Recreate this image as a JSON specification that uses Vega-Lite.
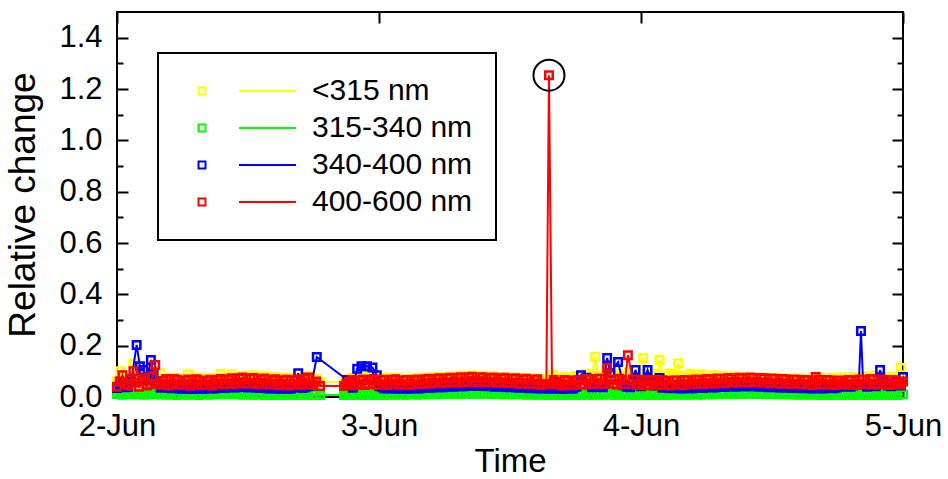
{
"$schema":"https://vega.github.io/schema/vega-lite/v6.json",
"autosize":"none",
"width":786,"height":385,
"padding":{"left":117,"top":12,"right":45,"bottom":82},
"background":"white",
"config":{
 "view":{"stroke":"black","strokeWidth":2},
 "font":"Liberation Sans",
 "axis":{"labelFont":"Liberation Sans","titleFont":"Liberation Sans","labelColor":"black","titleColor":"black","tickColor":"black","tickWidth":2,"domain":false,"grid":false,"labelFontSize":31,"titleFontWeight":"normal","labelOverlap":false,"labelFlush":false},
 "legend":{"strokeWidth":2}
},
"datasets":{
"yel":[{"h":0,"v":0.06},{"h":0.3,"v":0.1},{"h":1,"v":0.058},{"h":1.5,"v":0.13},{"h":2,"v":0.062},{"h":2.5,"v":0.08},{"h":3,"v":0.058},{"h":4,"v":0.093},{"h":4.5,"v":0.062},{"h":5,"v":0.075},{"h":5.5,"v":0.058},{"h":6,"v":0.072},{"h":6.5,"v":0.088},{"h":7,"v":0.06},{"h":7.5,"v":0.075},{"h":8,"v":0.058},{"h":8.5,"v":0.074},{"h":9,"v":0.062},{"h":9.5,"v":0.09},{"h":10,"v":0.06},{"h":10.5,"v":0.088},{"h":11,"v":0.062},{"h":11.5,"v":0.08},{"h":12,"v":0.064},{"h":12.5,"v":0.085},{"h":13,"v":0.062},{"h":13.5,"v":0.082},{"h":14,"v":0.06},{"h":14.5,"v":0.078},{"h":15,"v":0.058},{"h":15.5,"v":0.075},{"h":16,"v":0.06},{"h":16.5,"v":0.077},{"h":17,"v":0.062},{"h":17.5,"v":0.08},{"h":18,"v":0.062},{"h":18.6,"v":0.058},{"h":20.8,"v":0.058},{"h":21,"v":0.062},{"h":21.5,"v":0.075},{"h":22,"v":0.06},{"h":22.5,"v":0.08},{"h":23,"v":0.062},{"h":23.5,"v":0.085},{"h":24,"v":0.06},{"h":24.5,"v":0.076},{"h":25,"v":0.058},{"h":25.5,"v":0.074},{"h":26,"v":0.057},{"h":26.5,"v":0.072},{"h":27,"v":0.059},{"h":27.5,"v":0.074},{"h":28,"v":0.06},{"h":28.5,"v":0.076},{"h":29,"v":0.062},{"h":29.5,"v":0.078},{"h":30,"v":0.064},{"h":30.5,"v":0.08},{"h":31,"v":0.066},{"h":31.5,"v":0.082},{"h":32,"v":0.067},{"h":32.5,"v":0.084},{"h":33,"v":0.066},{"h":33.5,"v":0.082},{"h":34,"v":0.064},{"h":34.5,"v":0.08},{"h":35,"v":0.062},{"h":35.5,"v":0.078},{"h":36,"v":0.06},{"h":36.5,"v":0.076},{"h":37,"v":0.058},{"h":37.5,"v":0.074},{"h":38,"v":0.057},{"h":38.5,"v":0.072},{"h":39,"v":0.058},{"h":39.5,"v":0.07},{"h":39.9,"v":0.086},{"h":40.5,"v":0.062},{"h":41,"v":0.078},{"h":41.5,"v":0.064},{"h":42,"v":0.082},{"h":42.5,"v":0.066},{"h":43,"v":0.09},{"h":43.5,"v":0.068},{"h":43.8,"v":0.157},{"h":44.3,"v":0.07},{"h":44.8,"v":0.1},{"h":45.3,"v":0.075},{"h":45.8,"v":0.09},{"h":46.3,"v":0.072},{"h":46.8,"v":0.095},{"h":47.3,"v":0.07},{"h":47.8,"v":0.09},{"h":48.2,"v":0.152},{"h":48.7,"v":0.075},{"h":49.2,"v":0.09},{"h":49.7,"v":0.144},{"h":50.2,"v":0.078},{"h":50.7,"v":0.092},{"h":51.1,"v":0.08},{"h":51.4,"v":0.132},{"h":52,"v":0.075},{"h":52.5,"v":0.09},{"h":53,"v":0.072},{"h":53.5,"v":0.088},{"h":54,"v":0.07},{"h":54.5,"v":0.085},{"h":55,"v":0.068},{"h":55.5,"v":0.082},{"h":56,"v":0.066},{"h":56.5,"v":0.08},{"h":57,"v":0.065},{"h":57.5,"v":0.078},{"h":58,"v":0.064},{"h":58.5,"v":0.076},{"h":59,"v":0.063},{"h":59.5,"v":0.075},{"h":60,"v":0.062},{"h":60.5,"v":0.074},{"h":61,"v":0.06},{"h":61.5,"v":0.072},{"h":62,"v":0.06},{"h":62.5,"v":0.072},{"h":63,"v":0.058},{"h":63.5,"v":0.07},{"h":64,"v":0.06},{"h":64.5,"v":0.072},{"h":65,"v":0.062},{"h":65.5,"v":0.074},{"h":66,"v":0.063},{"h":66.5,"v":0.076},{"h":67,"v":0.064},{"h":67.5,"v":0.078},{"h":68,"v":0.065},{"h":68.5,"v":0.08},{"h":69,"v":0.066},{"h":69.5,"v":0.082},{"h":70,"v":0.065},{"h":70.5,"v":0.08},{"h":71,"v":0.066},{"h":71.8,"v":0.113},{"h":72,"v":0.08},
{"h":0.6,"v":0.07},{"h":1.25,"v":0.065},{"h":1.75,"v":0.07},{"h":2.25,"v":0.075},{"h":2.75,"v":0.06},{"h":3.5,"v":0.075},{"h":4.25,"v":0.07},{"h":4.75,"v":0.058},{"h":5.25,"v":0.068},{"h":5.75,"v":0.072},{"h":6.25,"v":0.06},{"h":6.75,"v":0.07},{"h":7.25,"v":0.065},{"h":7.75,"v":0.06},{"h":8.25,"v":0.07},{"h":8.75,"v":0.063},{"h":9.25,"v":0.072},{"h":9.75,"v":0.065},{"h":10.25,"v":0.074},{"h":10.75,"v":0.066},{"h":11.25,"v":0.076},{"h":11.75,"v":0.068},{"h":12.25,"v":0.078},{"h":12.75,"v":0.068},{"h":13.25,"v":0.075},{"h":13.75,"v":0.066},{"h":14.25,"v":0.072},{"h":14.75,"v":0.064},{"h":15.25,"v":0.07},{"h":15.75,"v":0.062},{"h":16.25,"v":0.071},{"h":16.75,"v":0.063},{"h":17.25,"v":0.073},{"h":17.75,"v":0.066},{"h":18.3,"v":0.07},{"h":21.25,"v":0.07},{"h":21.75,"v":0.064},{"h":22.25,"v":0.072},{"h":22.75,"v":0.066},{"h":23.25,"v":0.078},{"h":23.75,"v":0.066},{"h":24.25,"v":0.07},{"h":24.75,"v":0.063},{"h":25.25,"v":0.068},{"h":25.75,"v":0.062},{"h":26.25,"v":0.066},{"h":26.75,"v":0.062},{"h":27.25,"v":0.068},{"h":27.75,"v":0.063},{"h":28.25,"v":0.07},{"h":28.75,"v":0.065},{"h":29.25,"v":0.072},{"h":29.75,"v":0.067},{"h":30.25,"v":0.074},{"h":30.75,"v":0.069},{"h":31.25,"v":0.076},{"h":31.75,"v":0.07},{"h":32.25,"v":0.077},{"h":32.75,"v":0.071},{"h":33.25,"v":0.076},{"h":33.75,"v":0.07},{"h":34.25,"v":0.074},{"h":34.75,"v":0.068},{"h":35.25,"v":0.072},{"h":35.75,"v":0.066},{"h":36.25,"v":0.07},{"h":36.75,"v":0.064},{"h":37.25,"v":0.068},{"h":37.75,"v":0.062},{"h":38.25,"v":0.066},{"h":38.75,"v":0.062},{"h":39.25,"v":0.064},{"h":39.7,"v":0.066},{"h":40.2,"v":0.072},{"h":40.75,"v":0.07},{"h":41.25,"v":0.07},{"h":41.75,"v":0.072},{"h":42.25,"v":0.074},{"h":42.75,"v":0.078},{"h":43.25,"v":0.08},{"h":44.05,"v":0.085},{"h":44.55,"v":0.082},{"h":45.05,"v":0.088},{"h":45.55,"v":0.08},{"h":46.05,"v":0.085},{"h":46.55,"v":0.08},{"h":47.05,"v":0.084},{"h":47.55,"v":0.08},{"h":48.45,"v":0.085},{"h":48.95,"v":0.082},{"h":49.45,"v":0.088},{"h":49.95,"v":0.084},{"h":50.45,"v":0.086},{"h":51.7,"v":0.082},{"h":52.25,"v":0.082},{"h":52.75,"v":0.08},{"h":53.25,"v":0.08},{"h":53.75,"v":0.078},{"h":54.25,"v":0.078},{"h":54.75,"v":0.076},{"h":55.25,"v":0.075},{"h":55.75,"v":0.074},{"h":56.25,"v":0.073},{"h":56.75,"v":0.072},{"h":57.25,"v":0.071},{"h":57.75,"v":0.07},{"h":58.25,"v":0.07},{"h":58.75,"v":0.069},{"h":59.25,"v":0.068},{"h":59.75,"v":0.068},{"h":60.25,"v":0.067},{"h":60.75,"v":0.066},{"h":61.25,"v":0.066},{"h":61.75,"v":0.065},{"h":62.25,"v":0.066},{"h":62.75,"v":0.064},{"h":63.25,"v":0.064},{"h":63.75,"v":0.065},{"h":64.25,"v":0.066},{"h":64.75,"v":0.067},{"h":65.25,"v":0.068},{"h":65.75,"v":0.069},{"h":66.25,"v":0.07},{"h":66.75,"v":0.07},{"h":67.25,"v":0.071},{"h":67.75,"v":0.072},{"h":68.25,"v":0.073},{"h":68.75,"v":0.073},{"h":69.25,"v":0.074},{"h":69.75,"v":0.074},{"h":70.25,"v":0.073},{"h":70.75,"v":0.072},{"h":71.25,"v":0.074},{"h":71.5,"v":0.08}],
"grn":[{"h":0,"v":0.012},{"h":0.5,"v":0.009},{"h":1,"v":0.014},{"h":1.5,"v":0.01},{"h":2,"v":0.013},{"h":2.5,"v":0.009},{"h":3,"v":0.012},{"h":3.5,"v":0.01},{"h":4,"v":0.013},{"h":4.5,"v":0.009},{"h":5,"v":0.011},{"h":5.5,"v":0.008},{"h":6,"v":0.012},{"h":6.5,"v":0.009},{"h":7,"v":0.011},{"h":7.5,"v":0.008},{"h":8,"v":0.012},{"h":8.5,"v":0.009},{"h":9,"v":0.013},{"h":9.5,"v":0.01},{"h":10,"v":0.014},{"h":10.5,"v":0.01},{"h":11,"v":0.013},{"h":11.5,"v":0.009},{"h":12,"v":0.012},{"h":12.5,"v":0.009},{"h":13,"v":0.011},{"h":13.5,"v":0.008},{"h":14,"v":0.011},{"h":14.5,"v":0.008},{"h":15,"v":0.01},{"h":15.5,"v":0.008},{"h":16,"v":0.011},{"h":16.5,"v":0.008},{"h":17,"v":0.01},{"h":17.5,"v":0.008},{"h":18,"v":0.01},{"h":18.6,"v":0.008},{"h":20.8,"v":0.008},{"h":21,"v":0.01},{"h":21.5,"v":0.008},{"h":22,"v":0.011},{"h":22.5,"v":0.008},{"h":23,"v":0.01},{"h":23.5,"v":0.008},{"h":24,"v":0.01},{"h":24.5,"v":0.008},{"h":25,"v":0.011},{"h":25.5,"v":0.009},{"h":26,"v":0.011},{"h":26.5,"v":0.009},{"h":27,"v":0.012},{"h":27.5,"v":0.009},{"h":28,"v":0.012},{"h":28.5,"v":0.01},{"h":29,"v":0.013},{"h":29.5,"v":0.01},{"h":30,"v":0.014},{"h":30.5,"v":0.011},{"h":31,"v":0.015},{"h":31.5,"v":0.011},{"h":32,"v":0.016},{"h":32.5,"v":0.012},{"h":33,"v":0.016},{"h":33.5,"v":0.012},{"h":34,"v":0.015},{"h":34.5,"v":0.011},{"h":35,"v":0.014},{"h":35.5,"v":0.01},{"h":36,"v":0.013},{"h":36.5,"v":0.01},{"h":37,"v":0.012},{"h":37.5,"v":0.009},{"h":38,"v":0.011},{"h":38.5,"v":0.009},{"h":39,"v":0.011},{"h":39.5,"v":0.008},{"h":40,"v":0.01},{"h":40.5,"v":0.008},{"h":41,"v":0.01},{"h":41.5,"v":0.008},{"h":42,"v":0.01},{"h":42.5,"v":0.008},{"h":43,"v":0.011},{"h":43.5,"v":0.009},{"h":44,"v":0.011},{"h":44.5,"v":0.009},{"h":45,"v":0.012},{"h":45.5,"v":0.009},{"h":46,"v":0.011},{"h":46.5,"v":0.009},{"h":47,"v":0.011},{"h":47.5,"v":0.008},{"h":48,"v":0.01},{"h":48.5,"v":0.008},{"h":49,"v":0.01},{"h":49.5,"v":0.008},{"h":50,"v":0.01},{"h":50.5,"v":0.008},{"h":51,"v":0.011},{"h":51.5,"v":0.009},{"h":52,"v":0.011},{"h":52.5,"v":0.009},{"h":53,"v":0.012},{"h":53.5,"v":0.009},{"h":54,"v":0.013},{"h":54.5,"v":0.01},{"h":55,"v":0.014},{"h":55.5,"v":0.011},{"h":56,"v":0.015},{"h":56.5,"v":0.011},{"h":57,"v":0.016},{"h":57.5,"v":0.012},{"h":58,"v":0.016},{"h":58.5,"v":0.012},{"h":59,"v":0.015},{"h":59.5,"v":0.011},{"h":60,"v":0.014},{"h":60.5,"v":0.01},{"h":61,"v":0.013},{"h":61.5,"v":0.01},{"h":62,"v":0.012},{"h":62.5,"v":0.009},{"h":63,"v":0.011},{"h":63.5,"v":0.009},{"h":64,"v":0.011},{"h":64.5,"v":0.008},{"h":65,"v":0.01},{"h":65.5,"v":0.008},{"h":66,"v":0.01},{"h":66.5,"v":0.008},{"h":67,"v":0.01},{"h":67.5,"v":0.008},{"h":68,"v":0.01},{"h":68.5,"v":0.008},{"h":69,"v":0.01},{"h":69.5,"v":0.008},{"h":70,"v":0.01},{"h":70.5,"v":0.008},{"h":71,"v":0.01},{"h":71.5,"v":0.008},{"h":72,"v":0.01},
{"h":0.25,"v":0.011},{"h":1.25,"v":0.012},{"h":2.25,"v":0.011},{"h":3.25,"v":0.011},{"h":4.25,"v":0.011},{"h":5.25,"v":0.01},{"h":6.25,"v":0.01},{"h":7.25,"v":0.01},{"h":8.25,"v":0.011},{"h":9.25,"v":0.012},{"h":10.25,"v":0.012},{"h":11.25,"v":0.011},{"h":12.25,"v":0.01},{"h":13.25,"v":0.01},{"h":14.25,"v":0.009},{"h":15.25,"v":0.009},{"h":16.25,"v":0.009},{"h":17.25,"v":0.009},{"h":18.25,"v":0.009},{"h":21.25,"v":0.009},{"h":22.25,"v":0.009},{"h":23.25,"v":0.009},{"h":24.25,"v":0.009},{"h":25.25,"v":0.01},{"h":26.25,"v":0.01},{"h":27.25,"v":0.011},{"h":28.25,"v":0.011},{"h":29.25,"v":0.012},{"h":30.25,"v":0.013},{"h":31.25,"v":0.013},{"h":32.25,"v":0.014},{"h":33.25,"v":0.014},{"h":34.25,"v":0.013},{"h":35.25,"v":0.012},{"h":36.25,"v":0.011},{"h":37.25,"v":0.011},{"h":38.25,"v":0.01},{"h":39.25,"v":0.01},{"h":40.25,"v":0.009},{"h":41.25,"v":0.009},{"h":42.25,"v":0.009},{"h":43.25,"v":0.01},{"h":44.25,"v":0.01},{"h":45.25,"v":0.01},{"h":46.25,"v":0.01},{"h":47.25,"v":0.009},{"h":48.25,"v":0.009},{"h":49.25,"v":0.009},{"h":50.25,"v":0.009},{"h":51.25,"v":0.01},{"h":52.25,"v":0.01},{"h":53.25,"v":0.011},{"h":54.25,"v":0.011},{"h":55.25,"v":0.012},{"h":56.25,"v":0.013},{"h":57.25,"v":0.014},{"h":58.25,"v":0.014},{"h":59.25,"v":0.013},{"h":60.25,"v":0.012},{"h":61.25,"v":0.011},{"h":62.25,"v":0.01},{"h":63.25,"v":0.01},{"h":64.25,"v":0.009},{"h":65.25,"v":0.009},{"h":66.25,"v":0.009},{"h":67.25,"v":0.009},{"h":68.25,"v":0.009},{"h":69.25,"v":0.009},{"h":70.25,"v":0.009},{"h":71.25,"v":0.009}],
"blu":[{"h":0,"v":0.035},{"h":0.5,"v":0.05},{"h":1,"v":0.04},{"h":1.8,"v":0.203},{"h":2.4,"v":0.105},{"h":3.1,"v":0.144},{"h":3.6,"v":0.06},{"h":4,"v":0.036},{"h":4.5,"v":0.045},{"h":5,"v":0.034},{"h":5.5,"v":0.04},{"h":6,"v":0.032},{"h":6.5,"v":0.038},{"h":7,"v":0.031},{"h":7.5,"v":0.037},{"h":8,"v":0.032},{"h":8.5,"v":0.039},{"h":9,"v":0.034},{"h":9.5,"v":0.042},{"h":10,"v":0.036},{"h":10.5,"v":0.045},{"h":11,"v":0.038},{"h":11.5,"v":0.047},{"h":12,"v":0.037},{"h":12.5,"v":0.044},{"h":13,"v":0.035},{"h":13.5,"v":0.041},{"h":14,"v":0.033},{"h":14.5,"v":0.039},{"h":15,"v":0.032},{"h":15.5,"v":0.037},{"h":16,"v":0.033},{"h":16.6,"v":0.093},{"h":17,"v":0.035},{"h":17.5,"v":0.042},{"h":18.3,"v":0.156},{"h":21.1,"v":0.066},{"h":21.6,"v":0.036},{"h":22,"v":0.11},{"h":22.4,"v":0.12},{"h":22.9,"v":0.12},{"h":23.4,"v":0.115},{"h":23.8,"v":0.085},{"h":24.3,"v":0.038},{"h":24.8,"v":0.033},{"h":25.3,"v":0.039},{"h":25.8,"v":0.032},{"h":26.3,"v":0.038},{"h":26.8,"v":0.033},{"h":27.3,"v":0.04},{"h":27.8,"v":0.034},{"h":28.3,"v":0.042},{"h":28.8,"v":0.036},{"h":29.3,"v":0.044},{"h":29.8,"v":0.038},{"h":30.3,"v":0.046},{"h":30.8,"v":0.04},{"h":31.3,"v":0.048},{"h":31.8,"v":0.042},{"h":32.3,"v":0.05},{"h":32.8,"v":0.043},{"h":33.3,"v":0.05},{"h":33.8,"v":0.042},{"h":34.3,"v":0.048},{"h":34.8,"v":0.04},{"h":35.3,"v":0.046},{"h":35.8,"v":0.038},{"h":36.3,"v":0.044},{"h":36.8,"v":0.036},{"h":37.3,"v":0.042},{"h":37.8,"v":0.034},{"h":38.3,"v":0.04},{"h":38.8,"v":0.033},{"h":39.3,"v":0.038},{"h":39.8,"v":0.032},{"h":40.3,"v":0.037},{"h":40.8,"v":0.032},{"h":41.3,"v":0.036},{"h":41.8,"v":0.033},{"h":42.5,"v":0.085},{"h":43,"v":0.075},{"h":43.5,"v":0.038},{"h":44,"v":0.042},{"h":44.5,"v":0.038},{"h":44.9,"v":0.152},{"h":45.2,"v":0.093},{"h":45.9,"v":0.136},{"h":46.4,"v":0.045},{"h":47,"v":0.038},{"h":47.5,"v":0.105},{"h":48,"v":0.042},{"h":48.6,"v":0.105},{"h":49.2,"v":0.045},{"h":49.7,"v":0.074},{"h":50.2,"v":0.038},{"h":50.7,"v":0.034},{"h":51.2,"v":0.039},{"h":51.7,"v":0.033},{"h":52.2,"v":0.038},{"h":52.7,"v":0.034},{"h":53.2,"v":0.04},{"h":53.7,"v":0.035},{"h":54.2,"v":0.042},{"h":54.7,"v":0.037},{"h":55.2,"v":0.044},{"h":55.7,"v":0.039},{"h":56.2,"v":0.046},{"h":56.7,"v":0.04},{"h":57.2,"v":0.048},{"h":57.7,"v":0.041},{"h":58.2,"v":0.048},{"h":58.7,"v":0.04},{"h":59.2,"v":0.045},{"h":59.7,"v":0.038},{"h":60.2,"v":0.043},{"h":60.7,"v":0.036},{"h":61.2,"v":0.041},{"h":61.7,"v":0.035},{"h":62.2,"v":0.039},{"h":62.7,"v":0.034},{"h":63.2,"v":0.037},{"h":63.7,"v":0.033},{"h":64.2,"v":0.036},{"h":64.7,"v":0.033},{"h":65.2,"v":0.037},{"h":65.7,"v":0.034},{"h":66.2,"v":0.04},{"h":66.7,"v":0.045},{"h":67.2,"v":0.04},{"h":67.6,"v":0.05},{"h":67.95,"v":0.05},{"h":68.15,"v":0.257},{"h":68.35,"v":0.05},{"h":68.7,"v":0.04},{"h":69.1,"v":0.048},{"h":69.5,"v":0.042},{"h":69.9,"v":0.105},{"h":70.4,"v":0.05},{"h":70.9,"v":0.042},{"h":71.4,"v":0.06},{"h":71.8,"v":0.045},{"h":72,"v":0.078},
{"h":0.25,"v":0.042},{"h":0.75,"v":0.038},{"h":1.3,"v":0.06},{"h":2.1,"v":0.12},{"h":2.75,"v":0.07},{"h":3.35,"v":0.09},{"h":4.25,"v":0.04},{"h":4.75,"v":0.036},{"h":5.25,"v":0.039},{"h":5.75,"v":0.033},{"h":6.25,"v":0.037},{"h":6.75,"v":0.032},{"h":7.25,"v":0.036},{"h":7.75,"v":0.031},{"h":8.25,"v":0.037},{"h":8.75,"v":0.033},{"h":9.25,"v":0.039},{"h":9.75,"v":0.035},{"h":10.25,"v":0.041},{"h":10.75,"v":0.037},{"h":11.25,"v":0.043},{"h":11.75,"v":0.039},{"h":12.25,"v":0.042},{"h":12.75,"v":0.037},{"h":13.25,"v":0.04},{"h":13.75,"v":0.034},{"h":14.25,"v":0.038},{"h":14.75,"v":0.033},{"h":15.25,"v":0.036},{"h":15.75,"v":0.032},{"h":16.3,"v":0.04},{"h":16.8,"v":0.04},{"h":17.25,"v":0.038},{"h":17.8,"v":0.045},{"h":24.05,"v":0.042},{"h":24.55,"v":0.034},{"h":25.05,"v":0.037},{"h":25.55,"v":0.033},{"h":26.05,"v":0.036},{"h":26.55,"v":0.032},{"h":27.05,"v":0.037},{"h":27.55,"v":0.033},{"h":28.05,"v":0.038},{"h":28.55,"v":0.036},{"h":29.05,"v":0.04},{"h":29.55,"v":0.038},{"h":30.05,"v":0.042},{"h":30.55,"v":0.04},{"h":31.05,"v":0.044},{"h":31.55,"v":0.042},{"h":32.05,"v":0.046},{"h":32.55,"v":0.044},{"h":33.05,"v":0.047},{"h":33.55,"v":0.043},{"h":34.05,"v":0.045},{"h":34.55,"v":0.041},{"h":35.05,"v":0.043},{"h":35.55,"v":0.04},{"h":36.05,"v":0.041},{"h":36.55,"v":0.038},{"h":37.05,"v":0.039},{"h":37.55,"v":0.036},{"h":38.05,"v":0.037},{"h":38.55,"v":0.034},{"h":39.05,"v":0.036},{"h":39.55,"v":0.033},{"h":40.05,"v":0.035},{"h":40.55,"v":0.033},{"h":41.05,"v":0.034},{"h":41.55,"v":0.033},{"h":42.1,"v":0.04},{"h":43.25,"v":0.05},{"h":43.75,"v":0.04},{"h":44.25,"v":0.04},{"h":46.7,"v":0.04},{"h":47.25,"v":0.06},{"h":47.75,"v":0.06},{"h":48.3,"v":0.06},{"h":48.9,"v":0.06},{"h":49.45,"v":0.05},{"h":49.95,"v":0.036},{"h":50.45,"v":0.035},{"h":50.95,"v":0.037},{"h":51.45,"v":0.034},{"h":51.95,"v":0.036},{"h":52.45,"v":0.034},{"h":52.95,"v":0.037},{"h":53.45,"v":0.036},{"h":53.95,"v":0.039},{"h":54.45,"v":0.038},{"h":54.95,"v":0.041},{"h":55.45,"v":0.04},{"h":55.95,"v":0.043},{"h":56.45,"v":0.042},{"h":56.95,"v":0.045},{"h":57.45,"v":0.043},{"h":57.95,"v":0.046},{"h":58.45,"v":0.043},{"h":58.95,"v":0.044},{"h":59.45,"v":0.041},{"h":59.95,"v":0.041},{"h":60.45,"v":0.039},{"h":60.95,"v":0.039},{"h":61.45,"v":0.037},{"h":61.95,"v":0.037},{"h":62.45,"v":0.035},{"h":62.95,"v":0.036},{"h":63.45,"v":0.034},{"h":63.95,"v":0.035},{"h":64.45,"v":0.034},{"h":64.95,"v":0.035},{"h":65.45,"v":0.035},{"h":65.95,"v":0.037},{"h":66.45,"v":0.042},{"h":66.95,"v":0.042},{"h":67.4,"v":0.045},{"h":68.9,"v":0.044},{"h":69.3,"v":0.05},{"h":70.15,"v":0.06},{"h":70.65,"v":0.045},{"h":71.15,"v":0.05},{"h":71.6,"v":0.055}],
"red":[{"h":0,"v":0.04},{"h":0.5,"v":0.085},{"h":1,"v":0.045},{"h":1.5,"v":0.1},{"h":2,"v":0.04},{"h":2.5,"v":0.075},{"h":3,"v":0.05},{"h":3.5,"v":0.125},{"h":4,"v":0.048},{"h":4.5,"v":0.07},{"h":5,"v":0.05},{"h":5.5,"v":0.066},{"h":6,"v":0.049},{"h":6.5,"v":0.068},{"h":7,"v":0.052},{"h":7.5,"v":0.065},{"h":8,"v":0.05},{"h":8.5,"v":0.067},{"h":9,"v":0.053},{"h":9.5,"v":0.07},{"h":10,"v":0.052},{"h":10.5,"v":0.073},{"h":11,"v":0.055},{"h":11.5,"v":0.076},{"h":12,"v":0.054},{"h":12.5,"v":0.074},{"h":13,"v":0.055},{"h":13.5,"v":0.072},{"h":14,"v":0.052},{"h":14.5,"v":0.069},{"h":15,"v":0.05},{"h":15.5,"v":0.067},{"h":16,"v":0.049},{"h":16.5,"v":0.068},{"h":17,"v":0.051},{"h":17.5,"v":0.076},{"h":18,"v":0.05},{"h":18.6,"v":0.043},{"h":20.8,"v":0.043},{"h":21,"v":0.05},{"h":21.5,"v":0.066},{"h":22,"v":0.05},{"h":22.5,"v":0.068},{"h":23,"v":0.052},{"h":23.5,"v":0.07},{"h":24,"v":0.05},{"h":24.5,"v":0.067},{"h":25,"v":0.052},{"h":25.5,"v":0.069},{"h":26,"v":0.05},{"h":26.5,"v":0.066},{"h":27,"v":0.052},{"h":27.5,"v":0.068},{"h":28,"v":0.054},{"h":28.5,"v":0.071},{"h":29,"v":0.056},{"h":29.5,"v":0.073},{"h":30,"v":0.057},{"h":30.5,"v":0.075},{"h":31,"v":0.059},{"h":31.5,"v":0.077},{"h":32,"v":0.06},{"h":32.5,"v":0.079},{"h":33,"v":0.06},{"h":33.5,"v":0.077},{"h":34,"v":0.059},{"h":34.5,"v":0.076},{"h":35,"v":0.057},{"h":35.5,"v":0.075},{"h":36,"v":0.056},{"h":36.5,"v":0.073},{"h":37,"v":0.054},{"h":37.5,"v":0.071},{"h":38,"v":0.052},{"h":38.5,"v":0.069},{"h":39,"v":0.05},{"h":39.33,"v":0.05},{"h":39.57,"v":1.254},{"h":39.85,"v":0.05},{"h":40,"v":0.066},{"h":40.5,"v":0.05},{"h":41,"v":0.066},{"h":41.5,"v":0.048},{"h":42,"v":0.064},{"h":42.5,"v":0.05},{"h":43,"v":0.068},{"h":43.5,"v":0.052},{"h":44,"v":0.07},{"h":44.5,"v":0.054},{"h":44.9,"v":0.113},{"h":45.5,"v":0.052},{"h":46,"v":0.071},{"h":46.5,"v":0.05},{"h":46.8,"v":0.163},{"h":47.5,"v":0.05},{"h":48,"v":0.067},{"h":48.5,"v":0.048},{"h":49,"v":0.066},{"h":49.5,"v":0.05},{"h":50,"v":0.065},{"h":50.5,"v":0.048},{"h":51,"v":0.064},{"h":51.5,"v":0.05},{"h":52,"v":0.066},{"h":52.5,"v":0.051},{"h":53,"v":0.068},{"h":53.5,"v":0.053},{"h":54,"v":0.07},{"h":54.5,"v":0.055},{"h":55,"v":0.072},{"h":55.5,"v":0.056},{"h":56,"v":0.074},{"h":56.5,"v":0.058},{"h":57,"v":0.075},{"h":57.5,"v":0.059},{"h":58,"v":0.076},{"h":58.5,"v":0.058},{"h":59,"v":0.074},{"h":59.5,"v":0.056},{"h":60,"v":0.072},{"h":60.5,"v":0.055},{"h":61,"v":0.07},{"h":61.5,"v":0.053},{"h":62,"v":0.068},{"h":62.5,"v":0.052},{"h":63,"v":0.066},{"h":63.5,"v":0.05},{"h":64,"v":0.078},{"h":64.5,"v":0.051},{"h":65,"v":0.066},{"h":65.5,"v":0.05},{"h":66,"v":0.064},{"h":66.5,"v":0.051},{"h":67,"v":0.066},{"h":67.5,"v":0.05},{"h":68,"v":0.068},{"h":68.5,"v":0.052},{"h":69,"v":0.07},{"h":69.5,"v":0.051},{"h":70,"v":0.068},{"h":70.5,"v":0.05},{"h":71,"v":0.066},{"h":71.5,"v":0.052},{"h":72,"v":0.06},
{"h":0.25,"v":0.06},{"h":0.75,"v":0.05},{"h":1.25,"v":0.07},{"h":1.75,"v":0.055},{"h":2.25,"v":0.065},{"h":2.75,"v":0.045},{"h":3.25,"v":0.08},{"h":3.75,"v":0.052},{"h":4.25,"v":0.062},{"h":4.75,"v":0.045},{"h":5.25,"v":0.07},{"h":5.75,"v":0.048},{"h":6.25,"v":0.063},{"h":6.75,"v":0.044},{"h":7.25,"v":0.069},{"h":7.75,"v":0.047},{"h":8.25,"v":0.062},{"h":8.75,"v":0.045},{"h":9.25,"v":0.066},{"h":9.75,"v":0.049},{"h":10.25,"v":0.068},{"h":10.75,"v":0.05},{"h":11.25,"v":0.072},{"h":11.75,"v":0.052},{"h":12.25,"v":0.07},{"h":12.75,"v":0.05},{"h":13.25,"v":0.068},{"h":13.75,"v":0.049},{"h":14.25,"v":0.065},{"h":14.75,"v":0.046},{"h":15.25,"v":0.063},{"h":15.75,"v":0.045},{"h":16.25,"v":0.064},{"h":16.75,"v":0.047},{"h":17.25,"v":0.07},{"h":17.75,"v":0.048},{"h":18.25,"v":0.06},{"h":21.25,"v":0.058},{"h":21.75,"v":0.046},{"h":22.25,"v":0.064},{"h":22.75,"v":0.047},{"h":23.25,"v":0.066},{"h":23.75,"v":0.048},{"h":24.25,"v":0.064},{"h":24.75,"v":0.047},{"h":25.25,"v":0.066},{"h":25.75,"v":0.048},{"h":26.25,"v":0.063},{"h":26.75,"v":0.047},{"h":27.25,"v":0.065},{"h":27.75,"v":0.05},{"h":28.25,"v":0.068},{"h":28.75,"v":0.052},{"h":29.25,"v":0.07},{"h":29.75,"v":0.054},{"h":30.25,"v":0.072},{"h":30.75,"v":0.055},{"h":31.25,"v":0.074},{"h":31.75,"v":0.056},{"h":32.25,"v":0.076},{"h":32.75,"v":0.057},{"h":33.25,"v":0.075},{"h":33.75,"v":0.056},{"h":34.25,"v":0.073},{"h":34.75,"v":0.055},{"h":35.25,"v":0.072},{"h":35.75,"v":0.054},{"h":36.25,"v":0.07},{"h":36.75,"v":0.052},{"h":37.25,"v":0.068},{"h":37.75,"v":0.05},{"h":38.25,"v":0.066},{"h":38.75,"v":0.048},{"h":40.25,"v":0.058},{"h":40.75,"v":0.045},{"h":41.25,"v":0.063},{"h":41.75,"v":0.046},{"h":42.25,"v":0.066},{"h":42.75,"v":0.048},{"h":43.25,"v":0.07},{"h":43.75,"v":0.05},{"h":44.25,"v":0.072},{"h":44.7,"v":0.05},{"h":45.25,"v":0.068},{"h":45.75,"v":0.048},{"h":46.25,"v":0.066},{"h":47.25,"v":0.068},{"h":47.75,"v":0.047},{"h":48.25,"v":0.064},{"h":48.75,"v":0.045},{"h":49.25,"v":0.063},{"h":49.75,"v":0.046},{"h":50.25,"v":0.062},{"h":50.75,"v":0.045},{"h":51.25,"v":0.063},{"h":51.75,"v":0.047},{"h":52.25,"v":0.064},{"h":52.75,"v":0.049},{"h":53.25,"v":0.066},{"h":53.75,"v":0.05},{"h":54.25,"v":0.068},{"h":54.75,"v":0.052},{"h":55.25,"v":0.07},{"h":55.75,"v":0.054},{"h":56.25,"v":0.072},{"h":56.75,"v":0.055},{"h":57.25,"v":0.073},{"h":57.75,"v":0.056},{"h":58.25,"v":0.074},{"h":58.75,"v":0.055},{"h":59.25,"v":0.072},{"h":59.75,"v":0.053},{"h":60.25,"v":0.07},{"h":60.75,"v":0.052},{"h":61.25,"v":0.068},{"h":61.75,"v":0.05},{"h":62.25,"v":0.066},{"h":62.75,"v":0.049},{"h":63.25,"v":0.064},{"h":63.75,"v":0.047},{"h":64.25,"v":0.066},{"h":64.75,"v":0.048},{"h":65.25,"v":0.064},{"h":65.75,"v":0.047},{"h":66.25,"v":0.062},{"h":66.75,"v":0.048},{"h":67.25,"v":0.064},{"h":67.75,"v":0.047},{"h":68.25,"v":0.066},{"h":68.75,"v":0.049},{"h":69.25,"v":0.068},{"h":69.75,"v":0.048},{"h":70.25,"v":0.066},{"h":70.75,"v":0.047},{"h":71.25,"v":0.064},{"h":71.75,"v":0.049}],
"spike":[{"h":39.57,"v":1.254}]
},
"layer":[
{"data":{"name":"yel"},
 "mark":{"type":"line","strokeWidth":2,"point":{"shape":"square","filled":false,"size":56,"strokeWidth":2.5,"opacity":1}},
 "encoding":{
  "x":{"field":"h","type":"quantitative","scale":{"domain":[0,72],"nice":false,"zero":false},
   "axis":{"orient":"bottom","values":[0,24,48,72],"labelExpr":"['2-Jun','3-Jun','4-Jun','5-Jun'][round(datum.value/24)]","tickSize":-11,"labelPadding":25,"title":"Time","titleFontSize":33,"titlePadding":4}},
  "y":{"field":"v","type":"quantitative","scale":{"domain":[0,1.5],"nice":false},
   "axis":{"orient":"left","values":[0,0.1,0.2,0.3,0.4,0.5,0.6,0.7,0.8,0.9,1,1.1,1.2,1.3,1.4],"labelExpr":"round(datum.value*10)%2==0 ? format(datum.value,'.1f') : ''","tickSize":{"condition":{"test":"round(datum.value*10)%2==0","value":-11},"value":-6},"labelPadding":26,"title":"Relative change","titleFontSize":37,"titlePadding":16}},
  "color":{"datum":"<315 nm","type":"nominal","scale":{"domain":["<315 nm","315-340 nm","340-400 nm","400-600 nm"],"range":["#ffff00","#00ff00","#0000ff","#ff0000"]},
   "legend":{"orient":"none","legendX":41,"legendY":41,"title":null,"strokeColor":"black","fillColor":"white","padding":23,"symbolType":"M -0.71 -0.061 H -0.588 V 0.061 H -0.71 Z M 0 0 H 1","symbolSize":12996,"symbolStrokeWidth":2,"symbolFillColor":"transparent","labelFont":"Liberation Sans","labelFontSize":30,"labelColor":"black","labelOffset":15,"labelLimit":400,"rowPadding":7,"clipHeight":30}}
 }},
{"data":{"name":"grn"},
 "mark":{"type":"line","strokeWidth":2,"point":{"shape":"square","filled":false,"size":56,"strokeWidth":2.5,"opacity":1}},
 "encoding":{
  "x":{"field":"h","type":"quantitative","scale":{"domain":[0,72],"nice":false,"zero":false},"axis":null},
  "y":{"field":"v","type":"quantitative","scale":{"domain":[0,1.5],"nice":false},"axis":null},
  "color":{"datum":"315-340 nm","type":"nominal"}
 }},
{"data":{"name":"blu"},
 "mark":{"type":"line","strokeWidth":2,"point":{"shape":"square","filled":false,"size":56,"strokeWidth":2.5,"opacity":1}},
 "encoding":{
  "x":{"field":"h","type":"quantitative","scale":{"domain":[0,72],"nice":false,"zero":false},"axis":null},
  "y":{"field":"v","type":"quantitative","scale":{"domain":[0,1.5],"nice":false},"axis":null},
  "color":{"datum":"340-400 nm","type":"nominal"}
 }},
{"data":{"name":"red"},
 "mark":{"type":"line","strokeWidth":2,"point":{"shape":"square","filled":false,"size":56,"strokeWidth":2.5,"opacity":1}},
 "encoding":{
  "x":{"field":"h","type":"quantitative","scale":{"domain":[0,72],"nice":false,"zero":false},"axis":null},
  "y":{"field":"v","type":"quantitative","scale":{"domain":[0,1.5],"nice":false},"axis":null},
  "color":{"datum":"400-600 nm","type":"nominal"}
 }},
{"data":{"name":"spike"},
 "mark":{"type":"point","shape":"circle","size":960,"filled":false,"color":"black","strokeWidth":2,"opacity":1},
 "encoding":{
  "x":{"field":"h","type":"quantitative","scale":{"domain":[0,72],"nice":false,"zero":false},
   "axis":{"orient":"top","values":[0,24,48,72],"labels":false,"tickSize":-11,"title":null}},
  "y":{"field":"v","type":"quantitative","scale":{"domain":[0,1.5],"nice":false},
   "axis":{"orient":"right","values":[0,0.1,0.2,0.3,0.4,0.5,0.6,0.7,0.8,0.9,1,1.1,1.2,1.3,1.4],"labels":false,"tickSize":{"condition":{"test":"round(datum.value*10)%2==0","value":-11},"value":-6},"title":null}}
 }}
],
"resolve":{"axis":{"x":"independent","y":"independent"}}
}
